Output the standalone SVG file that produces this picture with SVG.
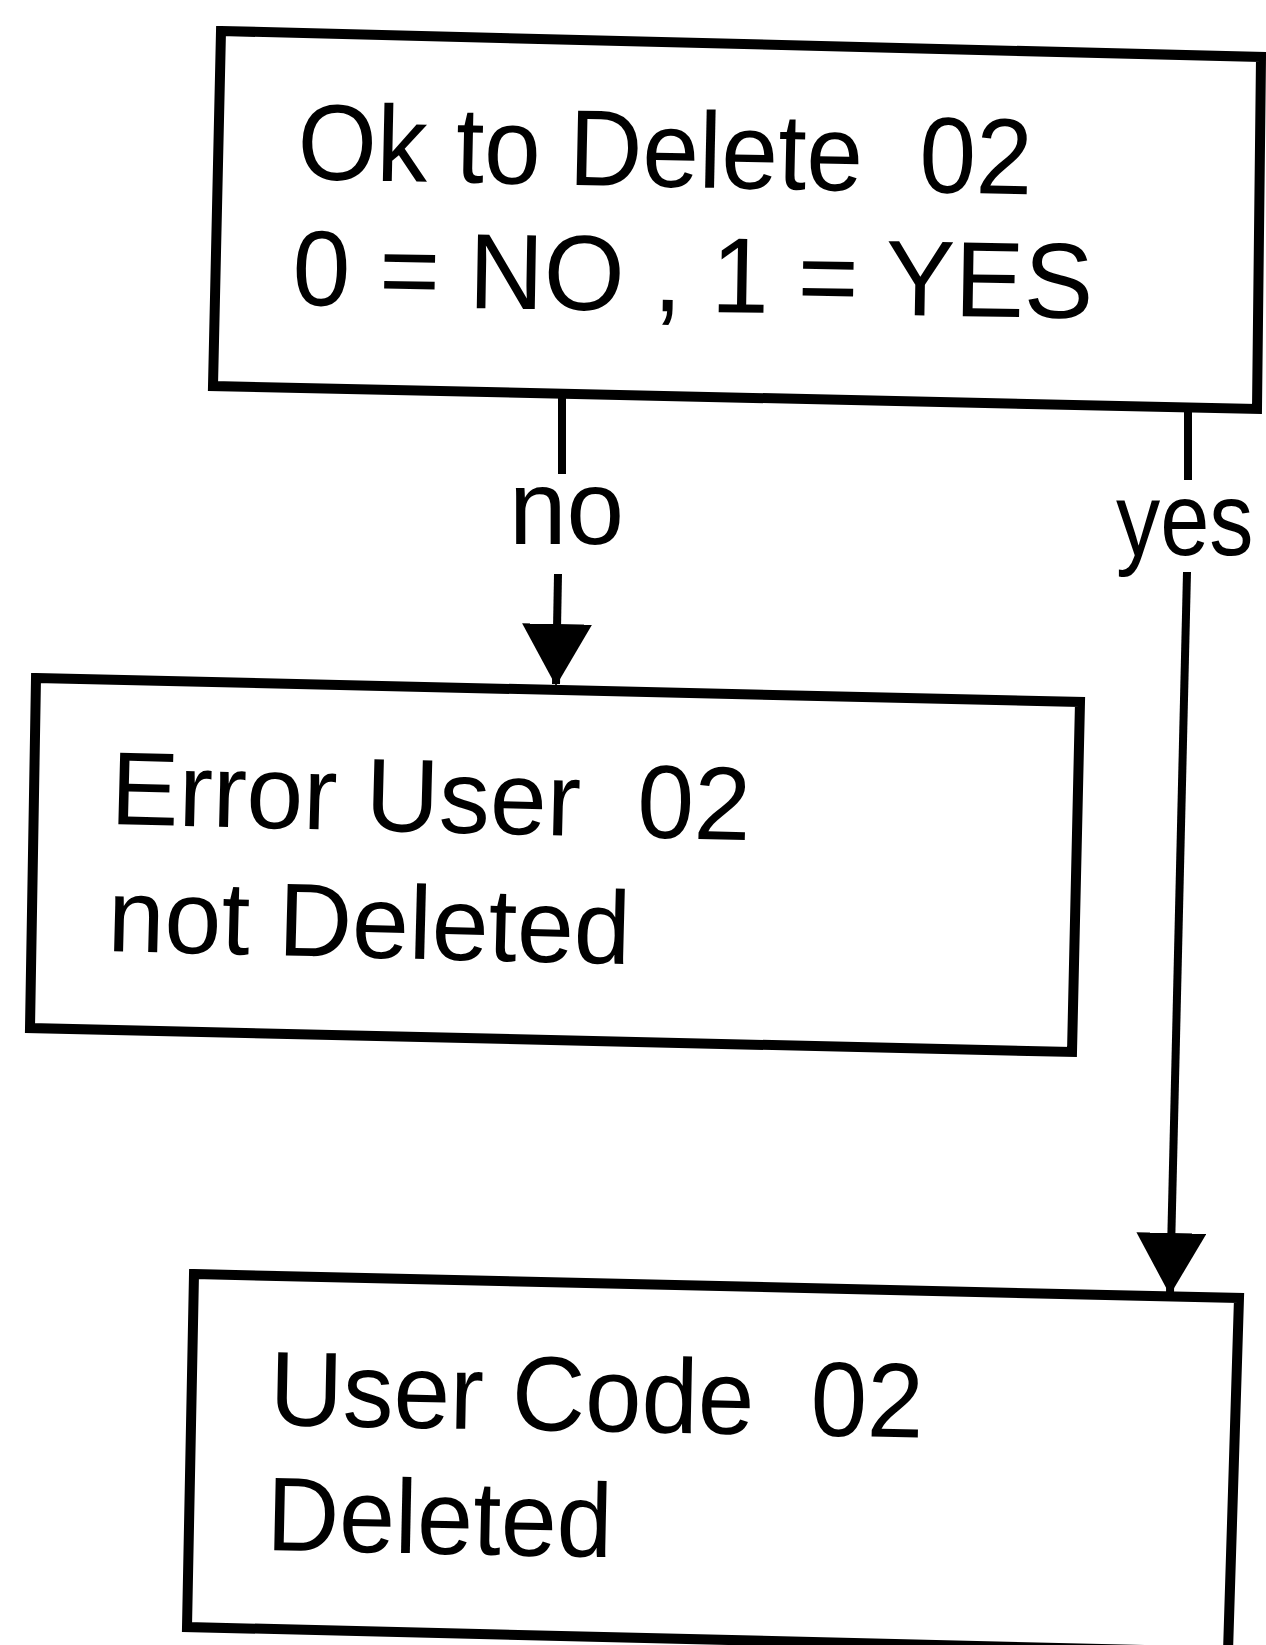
<svg xmlns="http://www.w3.org/2000/svg" width="1266" height="1645" viewBox="0 0 1266 1645">
<style>
.box{fill:#fff;stroke:#000;stroke-width:10;stroke-linejoin:miter}
.t{font-family:"Liberation Sans",Arial,sans-serif;fill:#000;white-space:pre}
.c{fill:none;stroke:#000;stroke-width:8}
</style>
<defs>
<marker id="ah" markerUnits="userSpaceOnUse" viewBox="0 0 62 70" refX="60" refY="35" markerWidth="62" markerHeight="70" orient="auto">
<polygon points="0,0 62,35 0,70" fill="#000"/>
</marker>
</defs>
<rect width="1266" height="1645" fill="#fff"/>
<g id="node-confirm">
<polygon class="box" points="221,31 1261,57 1257,409 213,386"/>
<text class="t" xml:space="preserve" font-size="108" x="297" y="179" textLength="735" lengthAdjust="spacingAndGlyphs" transform="rotate(1.2 297 179)">Ok to Delete  02</text>
<text class="t" xml:space="preserve" font-size="107" x="292" y="305" textLength="801" lengthAdjust="spacingAndGlyphs" transform="rotate(0.95 292 305)">0 = NO , 1 = YES</text>
</g>
<g id="node-error">
<polygon class="box" points="36,678 1080,702 1072,1052 30,1028"/>
<text class="t" xml:space="preserve" font-size="104" x="110" y="824" textLength="640" lengthAdjust="spacingAndGlyphs" transform="rotate(1.45 110 824)">Error User  02</text>
<text class="t" xml:space="preserve" font-size="104" x="107" y="951" textLength="523" lengthAdjust="spacingAndGlyphs" transform="rotate(1.45 107 951)">not Deleted</text>
</g>
<g id="node-deleted">
<polygon class="box" points="194,1274 1239,1298 1228,1652 187,1627"/>
<text class="t" xml:space="preserve" font-size="106" x="269" y="1425" textLength="654" lengthAdjust="spacingAndGlyphs" transform="rotate(1.1 269 1425)">User Code  02</text>
<text class="t" xml:space="preserve" font-size="105" x="266" y="1550" textLength="346" lengthAdjust="spacingAndGlyphs" transform="rotate(1.2 266 1550)">Deleted</text>
</g>
<g id="connectors">
<path class="c" d="M562,392 L562,474"/>
<path class="c" d="M558,574 L556,684" marker-end="url(#ah)"/>
<text class="t" font-size="106" x="509" y="544" textLength="115" lengthAdjust="spacingAndGlyphs">no</text>
<path class="c" d="M1188,405 L1188,480"/>
<path class="c" d="M1187,572 L1170,1293" marker-end="url(#ah)"/>
<text class="t" font-size="104" x="0" y="0" transform="translate(1116 555) scale(0.85 1)">yes</text>
</g>
</svg>
